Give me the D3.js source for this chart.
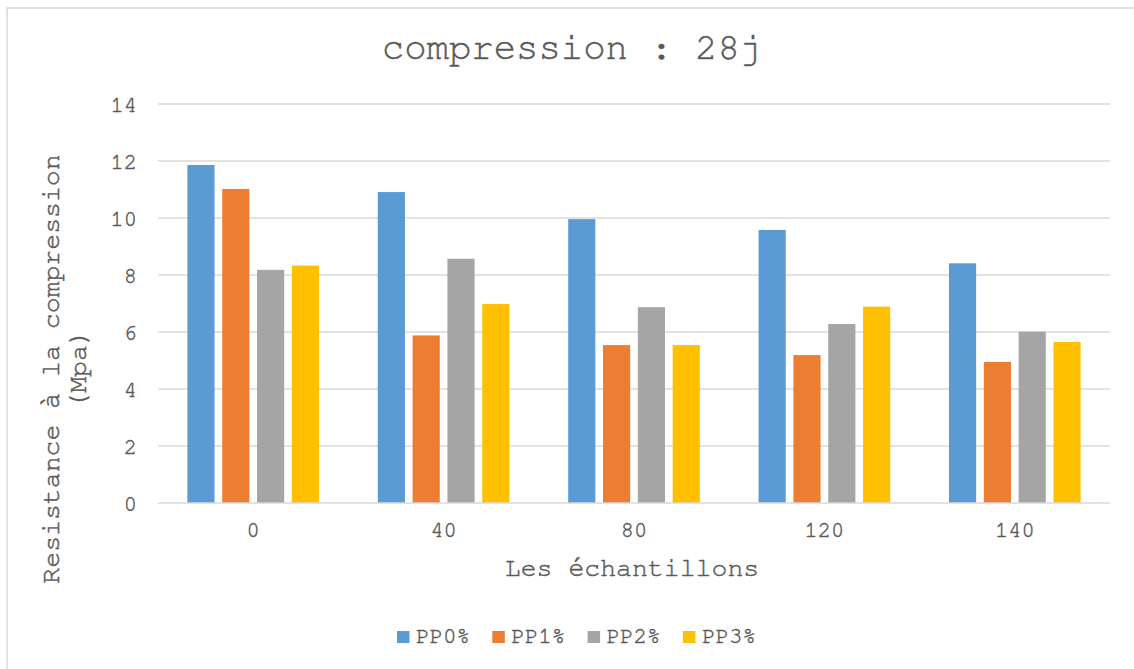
<!DOCTYPE html>
<html>
<head>
<meta charset="utf-8">
<script src="https://cdn.jsdelivr.net/npm/d3@7"></script>
<style>
  html, body { margin: 0; padding: 0; background: #fff; }
  svg { display: block; }
  text { font-family: "FreeMono", "Courier New", monospace; fill: #595959; stroke: #595959; stroke-width: 0.45px; }
</style>
</head>
<body>
<svg id="chart" width="1134" height="669"></svg>
<script>
const categories = ["0", "40", "80", "120", "140"];
const seriesNames = ["PP0%", "PP1%", "PP2%", "PP3%"];
const PP0 = [11.86, 10.91, 9.96, 9.58, 8.41];
const PP1 = [11.02, 5.88, 5.54, 5.19, 4.95];
const PP2 = [8.18, 8.57, 6.87, 6.28, 6.01];
const PP3 = [8.33, 6.98, 5.54, 6.89, 5.65];
const seriesValues = [PP0, PP1, PP2, PP3];
const colors = ["#5b9bd5", "#ed7d31", "#a5a5a5", "#ffc000"];
const yTicks = [0, 2, 4, 6, 8, 10, 12, 14];
const title = "compression : 28j";
const xTitle = "Les échantillons";
const yTitle = ["Resistance à la compression", "(Mpa)"];

const FONT = "FreeMono, 'Courier New', monospace";
const svg = d3.select("#chart");
const W = 1134, H = 669;
const plot = { left: 158, right: 1110, top: 104, bottom: 503 };

svg.append("rect").attr("x", 0).attr("y", 0).attr("width", W).attr("height", H).attr("fill", "#fff");
svg.append("rect").attr("x", 7).attr("y", 8).attr("width", 1300).attr("height", 1000)
  .attr("fill", "none").attr("stroke", "#d9d9d9").attr("stroke-width", 1.5);

const y = d3.scaleLinear().domain([0, 14]).range([plot.bottom, plot.top]);
const x0 = d3.scaleBand().domain(categories).range([plot.left, plot.right]).paddingInner(0.272).paddingOuter(0.136);
const x1 = d3.scaleBand().domain(seriesNames).range([0, x0.bandwidth()]).paddingInner(0.22).paddingOuter(0.1);

// gridlines
svg.append("g").selectAll("line").data(yTicks.filter(d => d !== 0)).join("line")
  .attr("x1", plot.left).attr("x2", plot.right)
  .attr("y1", d => y(d)).attr("y2", d => y(d))
  .attr("stroke", "#d9d9d9").attr("stroke-width", 1.3);

// y tick labels
const yAxis = d3.axisLeft(y).tickValues(yTicks).tickSize(0).tickPadding(0);
const yg = svg.append("g").attr("transform", `translate(${plot.left - 21},0)`).call(yAxis);
yg.select(".domain").remove();
yg.selectAll("text").attr("font-size", 22).style("font-family", FONT)
  .attr("fill", "#595959").attr("dy", "0.32em");

// bars
const data = [];
categories.forEach((c, i) => seriesNames.forEach((s, j) => data.push({ c, s, v: seriesValues[j][i], col: colors[j] })));
svg.append("g").selectAll("rect").data(data).join("rect")
  .attr("x", d => x0(d.c) + x1(d.s))
  .attr("width", x1.bandwidth())
  .attr("y", d => y(d.v))
  .attr("height", d => y(0) - y(d.v))
  .attr("fill", d => d.col);

// x axis line
svg.append("line").attr("x1", plot.left).attr("x2", plot.right)
  .attr("y1", y(0)).attr("y2", y(0)).attr("stroke", "#d9d9d9").attr("stroke-width", 1.3);

// x tick labels
const xAxis = d3.axisBottom(x0).tickSize(0).tickPadding(0);
const xg = svg.append("g").attr("transform", `translate(0,${plot.bottom + 27})`).call(xAxis);
xg.select(".domain").remove();
xg.selectAll("text").attr("font-size", 22).style("font-family", FONT)
  .attr("fill", "#595959").attr("dy", "0.32em");

// title
svg.append("text").attr("x", 572).attr("y", 59).attr("text-anchor", "middle")
  .attr("font-size", 37.3).text(title);

// x title
svg.append("text").attr("x", 632).attr("y", 576).attr("text-anchor", "middle")
  .attr("font-size", 26.5).text(xTitle);

// y title
const yt = svg.append("text").attr("transform", "translate(0,369) rotate(-90)").attr("text-anchor", "middle")
  .attr("font-size", 26.5);
yt.append("tspan").attr("x", 0).attr("y", 59).text(yTitle[0]);
yt.append("tspan").attr("x", 0).attr("y", 86).text(yTitle[1]);

// legend
const lg = svg.append("g").selectAll("g").data(seriesNames).join("g")
  .attr("transform", (d, i) => `translate(${397 + i * 95.3},631)`);
lg.append("rect").attr("width", 12.5).attr("height", 12).attr("fill", (d, i) => colors[i]);
lg.append("text").attr("x", 19).attr("y", 11.5)
  .attr("font-size", 22.5).text(d => d);
</script>
</body>
</html>
